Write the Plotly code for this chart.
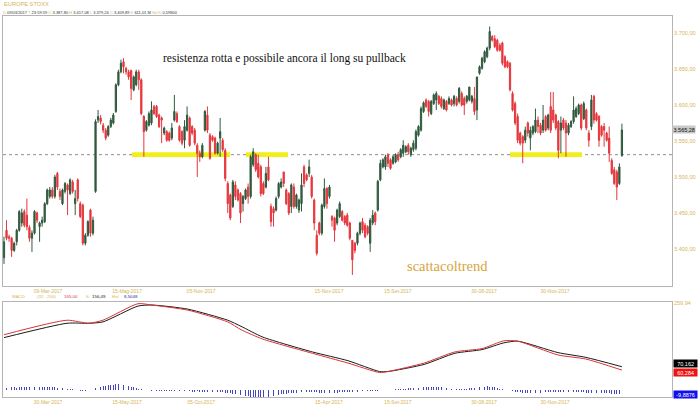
import plotly.graph_objects as go

# ---------------- DATA ----------------
open_ = [3387.8, 3426, 3417, 3415, 3398, 3410, 3426, 3436, 3452, 3447,
         3430, 3415, 3422, 3450, 3431, 3436, 3438, 3463, 3473, 3482,
         3473, 3505, 3480, 3463, 3480, 3489, 3477, 3493, 3463, 3496,
         3463, 3461, 3408, 3419, 3454, 3422, 3480, 3579, 3582, 3572,
         3565, 3558, 3570, 3575, 3591, 3628, 3646, 3660, 3651, 3646,
         3648, 3621, 3628, 3646, 3635, 3584, 3565, 3572, 3575, 3598,
         3598, 3586, 3582, 3561, 3563, 3561, 3554, 3579, 3588, 3570,
         3563, 3551, 3565, 3582, 3570, 3565, 3544, 3533, 3528, 3565,
         3586, 3558, 3556, 3554, 3533, 3554, 3551, 3537, 3491, 3475,
         3459,
         3489, 3482, 3477, 3463, 3470, 3486, 3473, 3517, 3531, 3519,
         3514, 3491, 3486, 3514, 3459, 3456, 3454, 3473, 3486, 3507,
         3482, 3477, 3459, 3486, 3459, 3454, 3463, 3514, 3503, 3505,
         3500, 3468, 3419, 3436, 3422, 3459, 3484, 3473, 3445, 3443,
         3436, 3445, 3452, 3445, 3447, 3436, 3412, 3408, 3408, 3422,
         3438, 3433, 3431, 3408, 3436, 3450, 3454, 3496, 3514, 3514,
         3531, 3524, 3519, 3521, 3531, 3528, 3533, 3535, 3544, 3531,
         3538,
         3540, 3558, 3565, 3591, 3607, 3605, 3588, 3602, 3607, 3612,
         3609, 3595, 3605, 3602, 3607, 3602, 3609, 3605, 3616, 3609,
         3605, 3607, 3605, 3609, 3593, 3644, 3651, 3660, 3667, 3679,
         3695, 3692, 3690, 3683, 3686, 3667, 3660, 3658, 3616, 3602,
         3584, 3561, 3556, 3551, 3575, 3554, 3561, 3563, 3579, 3572,
         3565, 3584, 3568, 3598, 3593, 3586, 3577, 3565, 3579, 3575,
         3561, 3570, 3577, 3584, 3588, 3600, 3581, 3593, 3561, 3570,
         3612, 3588, 3584, 3570, 3570, 3561, 3554, 3523, 3510, 3507,
         3491, 3530]

high = [3417.08, 3440, 3420, 3417, 3410, 3428, 3454, 3456, 3455, 3470,
        3433, 3426, 3454, 3452, 3438, 3445, 3465, 3484, 3486, 3486,
        3503, 3507, 3484, 3484, 3493, 3491, 3498, 3496, 3482, 3498,
        3466, 3463, 3422, 3440, 3456, 3445, 3580, 3593, 3586, 3575,
        3568, 3572, 3582, 3589, 3630, 3649, 3663, 3665, 3653, 3649,
        3649, 3641, 3649, 3649, 3637, 3586, 3579, 3591, 3605, 3600,
        3600, 3588, 3584, 3570, 3565, 3563, 3575, 3614, 3591, 3572,
        3565, 3579, 3598, 3584, 3572, 3568, 3547, 3537, 3547, 3593,
        3598, 3561, 3558, 3556, 3549, 3582, 3554, 3540, 3494, 3477,
        3496,
        3494, 3484, 3479, 3475, 3484, 3491, 3531, 3540, 3533, 3531,
        3517, 3494, 3514, 3528, 3463, 3459, 3473, 3493, 3498, 3507,
        3484, 3479, 3491, 3491, 3477, 3470, 3505, 3517, 3505, 3524,
        3503, 3470, 3426, 3438, 3463, 3498, 3486, 3489, 3447, 3445,
        3456, 3466, 3454, 3447, 3450, 3438, 3412, 3410, 3424, 3438,
        3443, 3436, 3433, 3443, 3454, 3452, 3496, 3524, 3526, 3531,
        3533, 3526, 3531, 3533, 3535, 3540, 3551, 3544, 3547, 3542,
        3551,
        3566, 3572, 3598, 3605, 3609, 3607, 3607, 3616, 3619, 3614,
        3612, 3609, 3607, 3612, 3609, 3614, 3612, 3625, 3619, 3612,
        3614, 3625, 3614, 3625, 3639, 3655, 3667, 3676, 3681, 3709,
        3697, 3697, 3692, 3686, 3688, 3669, 3662, 3660, 3619, 3605,
        3588, 3563, 3558, 3570, 3577, 3570, 3572, 3595, 3584, 3575,
        3600, 3586, 3588, 3618, 3618, 3588, 3579, 3584, 3582, 3579,
        3575, 3579, 3612, 3598, 3602, 3602, 3605, 3595, 3565, 3614,
        3614, 3590, 3586, 3572, 3575, 3563, 3570, 3526, 3514, 3510,
        3519, 3574]

low = [3379.24, 3412, 3410, 3389, 3396, 3405, 3424, 3431, 3430, 3426,
       3410, 3396, 3420, 3436, 3410, 3431, 3436, 3461, 3470, 3470,
       3470, 3482, 3468, 3461, 3477, 3447, 3475, 3477, 3447, 3466,
       3443, 3405, 3405, 3417, 3417, 3419, 3478, 3575, 3573, 3561,
       3551, 3556, 3568, 3573, 3589, 3626, 3644, 3644, 3642, 3635,
       3607, 3619, 3626, 3621, 3586, 3528, 3563, 3570, 3572, 3586,
       3582, 3568, 3547, 3558, 3549, 3549, 3551, 3577, 3575, 3549,
       3544, 3540, 3563, 3542, 3558, 3544, 3500, 3521, 3526, 3563,
       3561, 3524, 3549, 3531, 3531, 3528, 3535, 3494, 3450, 3440,
       3457,
       3468, 3466, 3436, 3452, 3468, 3463, 3470, 3514, 3507, 3498,
       3473, 3475, 3484, 3494, 3431, 3431, 3452, 3470, 3484, 3486,
       3461, 3447, 3450, 3456, 3456, 3450, 3452, 3486, 3494, 3500,
       3470, 3426, 3391, 3419, 3419, 3456, 3456, 3470, 3431, 3410,
       3433, 3443, 3438, 3433, 3431, 3412, 3364, 3394, 3405, 3419,
       3422, 3415, 3419, 3396, 3433, 3433, 3452, 3494, 3512, 3510,
       3514, 3510, 3517, 3519, 3521, 3526, 3528, 3533, 3531, 3528,
       3535,
       3537, 3556, 3563, 3589, 3596, 3584, 3586, 3600, 3593, 3600,
       3595, 3593, 3591, 3600, 3598, 3598, 3598, 3602, 3598, 3586,
       3602, 3605, 3602, 3586, 3579, 3642, 3649, 3658, 3665, 3676,
       3688, 3679, 3674, 3674, 3655, 3651, 3651, 3619, 3591, 3572,
       3547, 3544, 3519, 3547, 3556, 3537, 3558, 3561, 3561, 3558,
       3561, 3563, 3565, 3561, 3575, 3565, 3526, 3533, 3565, 3528,
       3558, 3568, 3574, 3582, 3586, 3565, 3579, 3565, 3542, 3565,
       3574, 3577, 3542, 3556, 3542, 3549, 3521, 3503, 3489, 3468,
       3489, 3528]

close = [3409.89, 3415, 3415, 3398, 3408, 3426, 3452, 3450, 3433, 3431,
         3415, 3422, 3452, 3440, 3436, 3440, 3463, 3482, 3482, 3473,
         3500, 3486, 3473, 3482, 3491, 3482, 3496, 3480, 3470, 3470,
         3445, 3408, 3419, 3438, 3422, 3440, 3577, 3584, 3577, 3565,
         3554, 3570, 3579, 3586, 3628, 3646, 3658, 3653, 3646, 3639,
         3623, 3639, 3646, 3635, 3588, 3563, 3577, 3588, 3593, 3588,
         3584, 3570, 3579, 3568, 3551, 3551, 3568, 3591, 3577, 3551,
         3547, 3570, 3586, 3544, 3561, 3547, 3533, 3528, 3544, 3591,
         3565, 3526, 3551, 3533, 3547, 3563, 3538, 3498, 3463, 3443,
         3493,
         3473, 3468, 3450, 3473, 3482, 3473, 3528, 3535, 3510, 3500,
         3477, 3477, 3505, 3496, 3438, 3450, 3470, 3491, 3493, 3491,
         3463, 3450, 3489, 3459, 3475, 3468, 3489, 3491, 3496, 3514,
         3473, 3436, 3394, 3422, 3461, 3484, 3463, 3486, 3440, 3426,
         3454, 3463, 3440, 3436, 3433, 3415, 3385, 3398, 3422, 3436,
         3426, 3417, 3422, 3440, 3447, 3438, 3494, 3519, 3524, 3528,
         3519, 3512, 3528, 3531, 3524, 3538, 3544, 3542, 3535, 3540,
         3547,
         3563, 3570, 3595, 3603, 3598, 3591, 3605, 3614, 3616, 3602,
         3598, 3607, 3593, 3609, 3600, 3612, 3600, 3623, 3600, 3600,
         3612, 3625, 3612, 3591, 3639, 3653, 3665, 3674, 3679, 3702,
         3690, 3681, 3676, 3676, 3658, 3653, 3653, 3621, 3593, 3575,
         3551, 3547, 3547, 3565, 3561, 3565, 3570, 3579, 3570, 3561,
         3579, 3565, 3586, 3565, 3579, 3568, 3537, 3575, 3568, 3561,
         3572, 3577, 3593, 3595, 3600, 3568, 3602, 3568, 3551, 3607,
         3579, 3579, 3551, 3558, 3565, 3551, 3533, 3505, 3491, 3486,
         3514, 3565.28]

# date labels (candle index where each label sits)
tick_pos = [17.3, 48.4, 77.5, 127.8, 154.9, 188.8, 216.7]
tick_top = ["09-Mar-2017", "15-Mag-2017", "05-Nov-2017", "15-Nov-2017",
            "15-Set-2017", "30-08-2017", "30-Nov-2017"]
tick_bottom = ["30-Mar-2017", "15-May-2017", "05-Oct-2017", "15-Apr-2017",
               "15-Set-2017", "30-08-2017", "30-Nov-2017"]

price_ticks = [3400, 3450, 3500, 3550, 3600, 3650, 3700]
last_price = 3565.28
support_level = 3531
support_zones = [(50.3, 88.9), (95.2, 111.7), (199.0, 227.3)]

# MACD (32,200)
macd_pos = [0, 24.8, 33.4, 38.9, 52.7, 58.2, 72.2, 88, 93.2, 101.8, 121.3,
            135.3, 147.7, 151, 165.2, 177.3, 188, 196.6, 202, 217.9, 228.8, 243]
macd_line = [165.0, 208, 199, 208, 257, 253, 238, 203, 180, 152, 110,
             81, 53, 56, 81, 114, 124, 147, 146, 105, 93, 60.284]
signal_line = [156.49, 199, 199, 203, 250, 253, 241, 208, 190, 158, 114,
               88, 56, 56, 77, 110, 121, 141, 146, 112, 98, 70.162]
hist = [8.5, 8, 8, 9, 9, 8, 9, 10, 9, 9,
        9, 10, 10, 9, 10, 11, 10, 10, 9, 9,
        9, 8, 8, 7, 6, 5, 4, 3, 2, 1,
        -1, -2, -2, -1, 1, 3, 6, 9, 11, 13,
        14, 15, 16, 17, 18, 18, 17, 16, 15, 13,
        11, 9, 7, 5, 3, 1, 0, -1, -1, -2,
        -2, -2, -3, -2, -3, -3, -2, -3, -3, -3,
        -3, -3, -4, -3, -4, -4, -3, -4, -4, -4,
        -5, -4, -5, -5, -6, -5, -6, -7, -8, -9,
        -10, -11, -13, -14, -16, -17, -18, -19, -20, -21,
        -22, -22, -21, -20, -19, -18, -16, -15, -13, -12,
        -11, -10, -9, -8, -8, -7, -7, -6, -6, -5,
        -5, -5, -6, -6, -7, -7, -8, -8, -8, -7,
        -7, -7, -6, -6, -6, -5, -5, -5, -4, -4,
        -4, -3, -3, -3, -2, -2, -1, -1, 0, 1,
        1, 2, 2, 3, 3, 4, 4, 5, 5, 6,
        6, 7, 7, 8, 8, 9, 9, 10, 10, 10,
        10, 9, 9, 8, 7, 6, 5, 5, 4, 4,
        4, 5, 5, 6, 7, 8, 9, 10, 11, 11,
        12, 11, 10, 9, 7, 5, 3, 1, 0, -2,
        -3, -4, -5, -6, -7, -7, -8, -8, -8, -8,
        -7, -7, -7, -6, -6, -6, -6, -5, -5, -5,
        -5, -5, -5, -5, -6, -6, -6, -6, -6, -7,
        -7, -7, -8, -8, -8, -9, -9, -9, -9, -10,
        -10, -10, -10, -9.8876]
macd_top = 259.94

# ---------------- LAYOUT HELPERS ----------------
W, H = 700, 414
ML, MR, MT, MB = 3, 28, 16, 17
PW, PH = W - ML - MR, H - MT - MB


def px_x(px):
    return (px - ML) / PW


def px_y(py):
    return (H - MB - py) / PH


def it_num(v, d=2):
    s = f"{v:,.{d}f}"
    return s.replace(",", "X").replace(".", ",").replace("X", ".")


GOLD = "#d6b556"
FRAME = "#b4b4b4"
GREEN = "#2f5a3e"
RED = "#e5363c"
INK = "#333333"

idx = list(range(len(close)))
x_range = [-0.39, 262.7]

fig = go.Figure()

fig.add_trace(go.Candlestick(
    x=idx, open=open_, high=high, low=low, close=close,
    increasing=dict(line=dict(color=GREEN, width=1), fillcolor=GREEN),
    decreasing=dict(line=dict(color=RED, width=1), fillcolor=RED),
    whiskerwidth=0, xaxis="x", yaxis="y", showlegend=False, hoverinfo="skip"))

fig.add_trace(go.Bar(x=idx, y=hist, width=0.32, marker=dict(color="#4545bd", line=dict(width=0)),
                     xaxis="x2", yaxis="y2", showlegend=False, hoverinfo="skip"))
fig.add_trace(go.Scatter(x=macd_pos, y=signal_line, mode="lines",
                         line=dict(color="#1a1a1a", width=1, shape="spline", smoothing=0.6),
                         xaxis="x2", yaxis="y2", showlegend=False, hoverinfo="skip"))
fig.add_trace(go.Scatter(x=macd_pos, y=macd_line, mode="lines",
                         line=dict(color="#d8343a", width=1, shape="spline", smoothing=0.6),
                         xaxis="x2", yaxis="y2", showlegend=False, hoverinfo="skip"))

shapes = []
for z0, z1 in support_zones:
    shapes.append(dict(type="rect", xref="x", yref="y", x0=z0, x1=z1,
                       y0=support_level - 3.4, y1=support_level + 3.4,
                       fillcolor="#f2ee1a", line=dict(width=0), layer="below"))
shapes.append(dict(type="line", xref="x domain", yref="y", x0=0, x1=1,
                   y0=support_level, y1=support_level,
                   line=dict(color="#8c8c8c", width=1, dash="3px,3px"), layer="below"))

ann = []


def span(t, c):
    return f"<span style='color:{c}'>{t}</span>"


# header
ann.append(dict(text="EUROPE STOXX", x=px_x(2), y=px_y(4.5), xref="paper", yref="paper",
                xanchor="left", yanchor="middle", showarrow=False,
                font=dict(family="Arial", size=5.7, color=GOLD)))
head_items = [("D", "09/03/2017"), ("T", "23:59:59"), ("O", "3.387,80"), ("H", "3.417,08"),
              ("L", "3.379,24"), ("C", "3.409,89"), ("V", "611,01 M"), ("Var%", "0,59800")]
head_text = " ".join(span(k, GOLD) + " " + span(v, INK) for k, v in head_items)
ann.append(dict(text=head_text, x=px_x(1), y=px_y(12.5), xref="paper", yref="paper",
                xanchor="left", yanchor="middle", showarrow=False,
                font=dict(family="Arial", size=4, color=INK)))
# macd header
macd_items = [("MACD", 10, GOLD), ("(32 , 200)", 35, GOLD), (it_num(macd_line[0]), 62, "#d8343a"),
              ("S", 84, GOLD), (it_num(signal_line[0]), 90, "#1a1a1a"), ("Hst", 110, GOLD),
              ("8,5048", 122, "#2c2ca0")]
for t, xp, c in macd_items:
    ann.append(dict(text=t, x=px_x(xp), y=px_y(296.5), xref="paper", yref="paper",
                    xanchor="left", yanchor="middle", showarrow=False,
                    font=dict(family="Arial", size=4.4, color=c)))

# chart comments
ann.append(dict(text="resistenza rotta e possibile ancora il long su pullback",
                x=px_x(284), y=px_y(59), xref="paper", yref="paper", showarrow=False,
                xanchor="center", yanchor="middle",
                font=dict(family="Liberation Serif", size=11.5, color="#111111")))
ann.append(dict(text="scattacoltrend", x=px_x(447), y=px_y(266), xref="paper", yref="paper",
                showarrow=False, xanchor="center", yanchor="middle",
                font=dict(family="Liberation Serif", size=14.5, color="#d6a53c")))

# last price box
ann.append(dict(text=it_num(last_price), x=1, y=last_price, xref="paper", yref="y",
                xanchor="left", yanchor="middle", showarrow=False, bgcolor="#c9c9c9",
                borderpad=0.5, font=dict(family="Arial", size=5.5, color="#111111")))
# macd right labels
ann.append(dict(text=it_num(macd_top), x=1, y=macd_top, xref="paper", yref="y2",
                xanchor="left", yanchor="middle", showarrow=False,
                font=dict(family="Arial", size=5.5, color=GOLD)))
mid = (signal_line[-1] + macd_line[-1]) / 2
ann.append(dict(text=it_num(signal_line[-1], 3), x=1.002, y=mid, xref="paper", yref="y2",
                xanchor="left", yanchor="bottom", showarrow=False, bgcolor="#000000",
                borderpad=0.6, width=22, font=dict(family="Arial", size=5.5, color="#ffffff")))
ann.append(dict(text=it_num(macd_line[-1], 3), x=1.002, y=mid, xref="paper", yref="y2",
                xanchor="left", yanchor="top", showarrow=False, bgcolor="#ee1111",
                borderpad=0.6, width=22, font=dict(family="Arial", size=5.5, color="#ffffff")))
ann.append(dict(text=it_num(hist[-1], 4), x=1.002, y=hist[-1] - 3, xref="paper", yref="y2",
                xanchor="left", yanchor="middle", showarrow=False, bgcolor="#1010ee",
                borderpad=0.6, width=22, font=dict(family="Arial", size=5.5, color="#ffffff")))

fig.update_layout(
    width=W, height=H, margin=dict(l=ML, r=MR, t=MT, b=MB),
    paper_bgcolor="white", plot_bgcolor="white", showlegend=False,
    bargap=0, shapes=shapes, annotations=ann,
    xaxis=dict(domain=[0, 1], anchor="y", range=x_range, rangeslider=dict(visible=False),
               showgrid=False, zeroline=False, showline=True, mirror=True,
               linecolor=FRAME, linewidth=1, ticks="",
               tickvals=tick_pos, ticktext=tick_top,
               tickfont=dict(family="Arial", size=5, color=GOLD)),
    yaxis=dict(domain=[px_y(286), 1], anchor="x", side="right", range=[3348.6, 3723.6],
               showgrid=False, zeroline=False, showline=True, mirror=True,
               linecolor=FRAME, linewidth=1, ticks="",
               tickvals=price_ticks, ticktext=[it_num(v) for v in price_ticks],
               tickfont=dict(family="Arial", size=5.5, color=GOLD)),
    xaxis2=dict(domain=[0, 1], anchor="y2", matches="x", range=x_range,
                showgrid=False, zeroline=False, showline=True, mirror=True,
                linecolor=FRAME, linewidth=1, ticks="",
                tickvals=tick_pos, ticktext=tick_bottom,
                tickfont=dict(family="Arial", size=5, color=GOLD)),
    yaxis2=dict(domain=[0, px_y(302)], anchor="x2", side="right", range=[-19.5, 262],
                showgrid=False, zeroline=False, showline=True, mirror=True,
                linecolor=FRAME, linewidth=1, showticklabels=False, ticks=""),
)

fig.write_html("out.html",
               config={"displayModeBar": False, "staticPlot": True},
               post_script="document.body.style.margin='0';document.body.style.padding='0';")
